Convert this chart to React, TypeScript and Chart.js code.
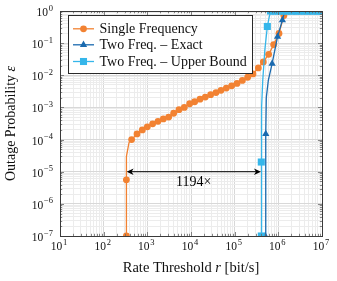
import React, { useEffect, useRef } from "react";
import { Chart, registerables } from "chart.js";
import { drawPoint } from "chart.js/helpers";

Chart.register(...registerables);

// ---------- axes ----------
const X_MIN = 10;
const X_MAX = 1e7;
const Y_MIN = 1e-7;
const Y_MAX = 1;
const xTickExponents = ["1", "2", "3", "4", "5", "6", "7"];
const yTickExponents = ["0", "−1", "−2", "−3", "−4", "−5", "−6", "−7"];
const xTitle = "Rate Threshold";
const xTitleVar = "r";
const xTitleUnit = "[bit/s]";
const yTitle = "Outage Probability";
const yTitleVar = "ε";

// ---------- series ----------
const seriesLabels = ["Single Frequency", "Two Freq. – Exact", "Two Freq. – Upper Bound"];
const seriesColors = ["#F28232", "#1A6AAF", "#35B6EA"];

// Single Frequency (markers)
const singleMarkX = [331, 331, 437, 580, 768, 1000, 1324, 1754, 2323, 3080, 4010, 5310, 7030, 9310, 12130, 16070, 21280, 28180, 37380, 48640, 64420, 85310, 113000, 150000, 198600, 263000, 348400, 453200, 600600, 781600, 1035000, 1340000, 1754000, 2323000, 3080000, 4010000, 5310000, 7030000, 10000000];
const singleMarkY = [1e-7, 5.6e-6, 1.0e-4, 1.5e-4, 2.0e-4, 2.5e-4, 3.1e-4, 3.7e-4, 4.4e-4, 5.0e-4, 6.6e-4, 8.5e-4, 1.0e-3, 1.3e-3, 1.5e-3, 1.8e-3, 2.1e-3, 2.5e-3, 2.9e-3, 3.4e-3, 4.0e-3, 4.7e-3, 5.6e-3, 6.9e-3, 8.7e-3, 1.1e-2, 1.7e-2, 2.6e-2, 4.5e-2, 9.0e-2, 0.2, 0.72, 1, 1, 1, 1, 1, 1, 1];
// Single Frequency (extra curve vertices without markers)
const singleBendX = [333, 380];
const singleBendY = [3e-5, 8e-5];

// Two Freq. – Exact
const exactMarkX = [500000, 515000, 720000, 960000, 1240000, 1600000, 2100000, 2700000, 3500000, 4500000, 5800000, 7500000, 10000000];
const exactMarkY = [1e-7, 1.5e-4, 2.3e-2, 0.16, 0.52, 1, 1, 1, 1, 1, 1, 1, 1];
const exactBendX = [530000, 590000, 1400000];
const exactBendY = [2e-3, 7e-3, 1];

// Two Freq. – Upper Bound
const boundMarkX = [407000, 407000, 560000, 660000, 750000, 850000, 1000000, 1150000, 1300000, 1500000, 1700000, 2000000, 2300000, 2600000, 3000000, 3400000, 4000000, 4600000, 5300000, 6000000, 7000000, 8000000, 9000000, 10000000];
const boundMarkY = [1e-7, 2e-5, 0.33, 1, 1, 1, 1, 1, 1, 1, 1, 1, 1, 1, 1, 1, 1, 1, 1, 1, 1, 1, 1, 1];
const boundBendX = [420000, 440000, 490000];
const boundBendY = [1e-3, 7e-3, 6e-2];

// ---------- annotation ----------
const gapFromX = 335;
const gapToX = 400000;
const gapLevel = 1e-5;
const gapText = "1194×";

const SERIF = "'Liberation Serif', 'Times New Roman', serif";

function pts(xs: number[], ys: number[]) {
  return xs.map((x, i) => ({ x, y: ys[i] }));
}
function path(mx: number[], my: number[], bx: number[], by: number[]) {
  const p = pts(mx, my).concat(pts(bx, by));
  p.sort((a, b) => a.x - b.x || a.y - b.y);
  return p;
}
function decadeTicks(loExp: number, hiExp: number) {
  const t: { value: number }[] = [];
  for (let e = loExp; e < hiExp; e++) {
    for (let m = 1; m < 10; m++) t.push({ value: m * Math.pow(10, e) });
  }
  t.push({ value: Math.pow(10, hiExp) });
  return t;
}
function isMajor(v: number) {
  const l = Math.log10(v);
  return Math.abs(l - Math.round(l)) < 1e-6;
}

const pointStyles = ["circle", "triangle", "rect"];
const pointRadii = [3.4, 4.2, 5.0];

const overlayPlugin = {
  id: "overlay",
  afterDatasetsDraw(chart: any) {
    const ctx = chart.ctx as CanvasRenderingContext2D;
    const ca = chart.chartArea;
    const xs = chart.scales.x;
    const ys = chart.scales.y;
    ctx.save();

    // inward ticks on all four sides
    ctx.strokeStyle = "#6a6a6a";
    ctx.lineWidth = 0.8;
    ctx.beginPath();
    for (const t of xs.ticks) {
      const px = Math.round(xs.getPixelForValue(t.value)) + 0.5;
      const len = isMajor(t.value) ? 4 : 2.2;
      ctx.moveTo(px, ca.bottom);
      ctx.lineTo(px, ca.bottom - len);
      ctx.moveTo(px, ca.top);
      ctx.lineTo(px, ca.top + len);
    }
    for (const t of ys.ticks) {
      const py = Math.round(ys.getPixelForValue(t.value)) + 0.5;
      const len = isMajor(t.value) ? 4 : 2.2;
      ctx.moveTo(ca.left, py);
      ctx.lineTo(ca.left + len, py);
      ctx.moveTo(ca.right, py);
      ctx.lineTo(ca.right - len, py);
    }
    ctx.stroke();

    // axis box
    ctx.strokeStyle = "#3a3a3a";
    ctx.lineWidth = 1;
    ctx.strokeRect(Math.round(ca.left) + 0.5, Math.round(ca.top) + 0.5, Math.round(ca.right - ca.left), Math.round(ca.bottom - ca.top));

    // tick labels
    ctx.fillStyle = "#111";
    const mainFont = `11.5px ${SERIF}`;
    const supFont = `8.5px ${SERIF}`;
    const measure = (exp: string) => {
      ctx.font = mainFont;
      const a = ctx.measureText("10").width;
      ctx.font = supFont;
      const b = ctx.measureText(exp).width;
      return [a, b];
    };
    const drawPow = (exp: string, x: number, baseY: number) => {
      const [a] = measure(exp);
      ctx.textAlign = "left";
      ctx.textBaseline = "alphabetic";
      ctx.font = mainFont;
      ctx.fillText("10", x, baseY);
      ctx.font = supFont;
      ctx.fillText(exp, x + a + 0.8, baseY - 5.5);
    };
    xTickExponents.forEach((e) => {
      const v = Math.pow(10, Number(e));
      const px = xs.getPixelForValue(v);
      const [a, b] = measure(e);
      drawPow(e, px - (a + b + 0.8) / 2 - 1, ca.bottom + 14);
    });
    yTickExponents.forEach((e) => {
      const v = Math.pow(10, Number(e.replace("−", "-")));
      const py = ys.getPixelForValue(v);
      const [a, b] = measure(e);
      drawPow(e, ca.left - 7 - (a + b + 0.8), py + 5);
    });

    // axis titles
    const tf = `14.5px ${SERIF}`;
    const tfi = `italic 14.5px ${SERIF}`;
    ctx.font = tf;
    const w1 = ctx.measureText(xTitle + " ").width;
    ctx.font = tfi;
    const w2 = ctx.measureText(xTitleVar + " ").width;
    ctx.font = tf;
    const w3 = ctx.measureText(xTitleUnit).width;
    const sx = (ca.left + ca.right) / 2 - (w1 + w2 + w3) / 2;
    ctx.textAlign = "left";
    ctx.textBaseline = "alphabetic";
    ctx.fillText(xTitle + " ", sx, 271.5);
    ctx.font = tfi;
    ctx.fillText(xTitleVar + " ", sx + w1, 271.5);
    ctx.font = tf;
    ctx.fillText(xTitleUnit, sx + w1 + w2, 271.5);

    ctx.save();
    ctx.translate(15, (ca.top + ca.bottom) / 2);
    ctx.rotate(-Math.PI / 2);
    ctx.font = `14px ${SERIF}`;
    const v1 = ctx.measureText(yTitle + " ").width;
    ctx.font = `italic 14px ${SERIF}`;
    const v2 = ctx.measureText(yTitleVar).width;
    const sy = -(v1 + v2) / 2;
    ctx.font = `14px ${SERIF}`;
    ctx.fillText(yTitle + " ", sy, 0);
    ctx.font = `italic 14px ${SERIF}`;
    ctx.fillText(yTitleVar, sy + v1, 0);
    ctx.restore();

    // gap annotation arrow
    const ax1 = xs.getPixelForValue(gapFromX);
    const ax2 = xs.getPixelForValue(gapToX);
    const ay = ys.getPixelForValue(gapLevel);
    ctx.strokeStyle = "#000";
    ctx.fillStyle = "#000";
    ctx.lineWidth = 1;
    ctx.beginPath();
    ctx.moveTo(ax1 + 4, ay);
    ctx.lineTo(ax2 - 4, ay);
    ctx.stroke();
    const head = (tipX: number, dir: number) => {
      ctx.beginPath();
      ctx.moveTo(tipX, ay);
      ctx.lineTo(tipX - dir * 7, ay - 3.2);
      ctx.lineTo(tipX - dir * 5, ay);
      ctx.lineTo(tipX - dir * 7, ay + 3.2);
      ctx.closePath();
      ctx.fill();
    };
    head(ax1, -1);
    head(ax2, 1);
    ctx.font = `14px ${SERIF}`;
    ctx.textAlign = "center";
    ctx.textBaseline = "middle";
    ctx.fillText(gapText, (ax1 + ax2) / 2, ay + 11);

    // legend
    const lx = 68.5, ly = 15.5, lw = 184, lh = 58;
    ctx.fillStyle = "#fff";
    ctx.fillRect(lx, ly, lw, lh);
    ctx.strokeStyle = "#2a2a2a";
    ctx.lineWidth = 1;
    ctx.strokeRect(lx, ly, lw, lh);
    const rows = [28.8, 44.8, 61.5];
    seriesLabels.forEach((label, i) => {
      const yy = rows[i];
      ctx.strokeStyle = seriesColors[i];
      ctx.lineWidth = 1.3;
      ctx.beginPath();
      ctx.moveTo(73, yy);
      ctx.lineTo(94, yy);
      ctx.stroke();
      ctx.fillStyle = seriesColors[i];
      ctx.strokeStyle = seriesColors[i];
      drawPoint(ctx, { pointStyle: pointStyles[i], radius: pointRadii[i], borderWidth: 0, rotation: 0 } as any, 83.5, yy);
      ctx.fillStyle = "#111";
      ctx.font = `14px ${SERIF}`;
      ctx.textAlign = "left";
      ctx.textBaseline = "middle";
      ctx.fillText(label, 99.5, yy + 0.5);
    });

    ctx.restore();
  },
};

export default function App() {
  const ref = useRef<HTMLCanvasElement>(null);
  useEffect(() => {
    if (!ref.current) return;
    const marks = [pts(singleMarkX, singleMarkY), pts(exactMarkX, exactMarkY), pts(boundMarkX, boundMarkY)];
    const lines = [
      path(singleMarkX, singleMarkY, singleBendX, singleBendY),
      path(exactMarkX, exactMarkY, exactBendX, exactBendY),
      path(boundMarkX, boundMarkY, boundBendX, boundBendY),
    ];
    const orders = [4, 2, 0];
    const datasets: any[] = [];
    seriesLabels.forEach((label, i) => {
      datasets.push({
        label: label + " (curve)",
        data: lines[i],
        showLine: true,
        borderColor: seriesColors[i],
        borderWidth: 1.3,
        pointRadius: 0,
        tension: 0,
        order: orders[i] + 1,
      });
      datasets.push({
        label,
        data: marks[i],
        showLine: false,
        pointStyle: pointStyles[i],
        pointRadius: pointRadii[i],
        pointBackgroundColor: seriesColors[i],
        pointBorderColor: seriesColors[i],
        pointBorderWidth: 0,
        order: orders[i],
      });
    });
    const gridColor = (c: any) => (c.tick && isMajor(c.tick.value) ? "#d8d8d8" : "#ececec");
    const chart = new Chart(ref.current, {
      type: "scatter",
      data: { datasets },
      options: {
        responsive: false,
        animation: false,
        devicePixelRatio: 1,
        layout: { padding: { left: 60, top: 11, right: 15, bottom: 45 } },
        plugins: { legend: { display: false }, tooltip: { enabled: false } },
        scales: {
          x: {
            type: "logarithmic",
            min: X_MIN,
            max: X_MAX,
            afterBuildTicks: (s: any) => {
              s.ticks = decadeTicks(1, 7);
            },
            ticks: { display: false },
            grid: { color: gridColor, lineWidth: 1, drawTicks: false },
            border: { display: false },
          },
          y: {
            type: "logarithmic",
            min: Y_MIN,
            max: Y_MAX,
            afterBuildTicks: (s: any) => {
              s.ticks = decadeTicks(-7, 0);
            },
            ticks: { display: false },
            grid: { color: gridColor, lineWidth: 1, drawTicks: false },
            border: { display: false },
          },
        },
      },
      plugins: [overlayPlugin],
    });
    return () => chart.destroy();
  }, []);
  return (
    <canvas
      ref={ref}
      width={337}
      height={281}
      style={{ position: "absolute", left: 0, top: 0, width: 337, height: 281, background: "#fff" }}
    />
  );
}
